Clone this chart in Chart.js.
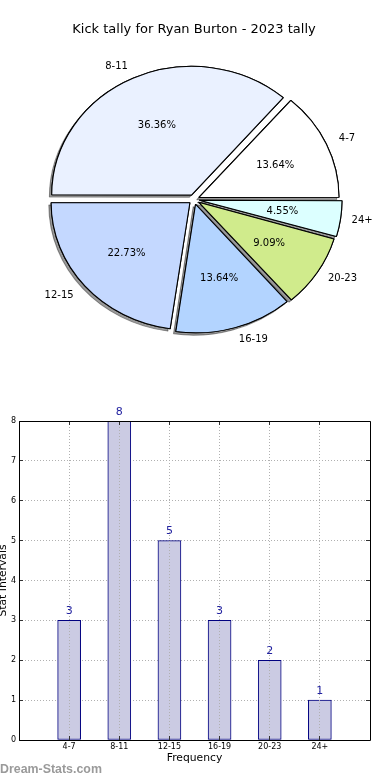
<!DOCTYPE html>
<html>
<head>
<meta charset="utf-8">
<script src="https://cdn.jsdelivr.net/npm/chart.js@4/dist/chart.umd.min.js"></script>
<style>
  html, body { margin: 0; padding: 0; background: #fff; }
  body { width: 390px; height: 780px; position: relative; overflow: hidden; }
  #pie { position: absolute; left: 0; top: 0; }
  #bar { position: absolute; left: 0; top: 400px; }
  #wm { position: absolute; left: 0; top: 761px; font: bold 12.4px "Liberation Sans", sans-serif; line-height: 16px; color: #9a9a9a; white-space: nowrap; }
</style>
</head>
<body>
<canvas id="pie" width="390" height="400"></canvas>
<canvas id="bar" width="390" height="380"></canvas>
<div id="wm">Dream-Stats.com</div>
<script>
// ---- data ----
const chartTitle = 'Kick tally for Ryan Burton - 2023 tally';
const categories = ['4-7', '8-11', '12-15', '16-19', '20-23', '24+'];
const counts = [3, 8, 5, 3, 2, 1];
const sliceColors = ['#ffffff', '#eaf1ff', '#c4d8ff', '#b3d4ff', '#d0eb8c', '#dcffff'];
const yTickValues = [0, 1, 2, 3, 4, 5, 6, 7, 8];
const xAxisTitle = 'Frequency';
const yAxisTitle = 'Stat Intervals';

const FONT = '"DejaVu Sans", sans-serif';
Chart.defaults.font.family = FONT;
Chart.defaults.color = '#000';

// ---- pie (matplotlib draws counter-clockwise from 3 o'clock; Chart.js clockwise) ----
const order = categories.map((_, i) => categories.length - 1 - i);
const X_STRETCH = 140 / 128.5;

function ellipse(chart) {
  const a = chart.getDatasetMeta(0).data[0];
  const ctx = chart.ctx;
  ctx.translate(a.x, a.y);
  ctx.scale(X_STRETCH, 1);
  ctx.translate(-a.x, -a.y);
}

const pieFx = {
  id: 'pieFx',
  beforeDatasetsDraw(chart) {
    const ctx = chart.ctx;
    ctx.save();
    ellipse(chart);
    ctx.shadowColor = 'rgba(0,0,0,0.4)';
    ctx.shadowOffsetX = -2.3;
    ctx.shadowOffsetY = 2.3;
    ctx.shadowBlur = 0;
    chart.getDatasetMeta(0).data.forEach(a => a.draw(ctx));
    ctx.restore();
    ctx.save();
    ellipse(chart);
  },
  afterDatasetsDraw(chart) {
    chart.ctx.restore();
  },
  afterDraw(chart) {
    const ctx = chart.ctx;
    const meta = chart.getDatasetMeta(0);
    const ds = chart.data.datasets[0];
    const total = ds.data.reduce((s, v) => s + v, 0);
    const d = (ds.offset || 0) / 4;
    ctx.save();
    ctx.font = '10px ' + FONT;
    ctx.fillStyle = '#000';
    ctx.textBaseline = 'middle';
    meta.data.forEach((a, i) => {
      const mid = (a.startAngle + a.endAngle) / 2;
      const c = Math.cos(mid), s = Math.sin(mid);
      const R = a.outerRadius + 1;
      const ex = a.x + X_STRETCH * d * c, ey = a.y + d * s;
      ctx.textAlign = c > 0 ? 'left' : 'right';
      ctx.fillText(chart.data.labels[i], ex + X_STRETCH * 1.1 * R * c, ey + 1.1 * R * s);
      ctx.textAlign = 'center';
      ctx.fillText((ds.data[i] / total * 100).toFixed(2) + '%', ex + X_STRETCH * 0.6 * R * c, ey + 0.6 * R * s);
    });
    ctx.restore();
  }
};

new Chart(document.getElementById('pie'), {
  type: 'pie',
  data: {
    labels: order.map(i => categories[i]),
    datasets: [{
      data: order.map(i => counts[i]),
      backgroundColor: order.map(i => sliceColors[i]),
      borderColor: '#000',
      borderWidth: 1,
      offset: 20,
      clip: false
    }]
  },
  options: {
    responsive: false,
    animation: false,
    rotation: 90,
    radius: 127.3,
    layout: { padding: { top: 0, left: 0, right: 2, bottom: 48.8 } },
    plugins: {
      legend: { display: false },
      tooltip: { enabled: false },
      title: {
        display: true,
        text: chartTitle,
        color: '#000',
        font: { size: 13, weight: 'normal', family: FONT },
        padding: { top: 22.2, bottom: 10 }
      }
    }
  },
  plugins: [pieFx]
});

// ---- bar ----
const pix = v => Math.round(v - 0.5) + 0.5;
const barFx = {
  id: 'barFx',
  afterDraw(chart) {
    const ctx = chart.ctx;
    const { left, right, top, bottom } = chart.chartArea;
    const xs = chart.scales.x, ys = chart.scales.y;
    ctx.save();
    // inward tick marks
    ctx.strokeStyle = '#333';
    ctx.lineWidth = 1;
    ctx.beginPath();
    ys.ticks.forEach(t => {
      const y = pix(ys.getPixelForValue(t.value));
      ctx.moveTo(left, y); ctx.lineTo(left + 4, y);
      ctx.moveTo(right - 4, y); ctx.lineTo(right, y);
    });
    categories.forEach((c, i) => {
      const x = pix(xs.getPixelForValue(i));
      ctx.moveTo(x, bottom); ctx.lineTo(x, bottom - 4);
      ctx.moveTo(x, top); ctx.lineTo(x, top + 4);
    });
    ctx.stroke();
    // frame
    ctx.strokeStyle = '#000';
    ctx.beginPath();
    ctx.rect(pix(left), pix(top), pix(right) - pix(left), pix(bottom) - pix(top));
    ctx.stroke();
    // value labels
    const meta = chart.getDatasetMeta(0);
    ctx.font = '11px ' + FONT;
    ctx.fillStyle = '#2222a0';
    ctx.textAlign = 'center';
    ctx.textBaseline = 'middle';
    meta.data.forEach((b, i) => {
      ctx.fillText(String(chart.data.datasets[0].data[i].y), b.x, b.y - 9);
    });
    ctx.restore();
  }
};

new Chart(document.getElementById('bar'), {
  type: 'bar',
  data: {
    datasets: [{
      data: categories.map((c, i) => ({ x: i, y: counts[i] })),
      backgroundColor: '#cbcbe3',
      borderColor: '#000080',
      borderWidth: 1,
      borderSkipped: false,
      barThickness: 23
    }]
  },
  options: {
    responsive: false,
    animation: false,
    layout: { padding: { top: 21, right: 20, left: 0, bottom: 0 } },
    plugins: { legend: { display: false }, tooltip: { enabled: false } },
    scales: {
      x: {
        type: 'linear',
        min: -1,
        max: categories.length,
        offset: false,
        ticks: {
          stepSize: 1,
          autoSkip: false,
          padding: 2,
          font: { size: 8 },
          color: '#000',
          callback: v => categories[v] !== undefined ? categories[v] : ''
        },
        grid: { offset: false, color: '#b0b0b0', lineWidth: 1, drawTicks: false, z: 1 },
        border: { display: false, dash: [1, 2] },
        title: { display: true, text: xAxisTitle, color: '#000', font: { size: 10.75 }, padding: { top: 0, bottom: 15 } },
        afterFit: s => { s.height = 40; }
      },
      y: {
        min: yTickValues[0],
        max: yTickValues[yTickValues.length - 1],
        ticks: { stepSize: 1, padding: 3, font: { size: 8 }, color: '#000' },
        grid: { color: '#b0b0b0', lineWidth: 1, drawTicks: false },
        border: { display: false, dash: [1, 2] },
        title: { display: true, text: yAxisTitle, color: '#000', font: { size: 10.75, lineHeight: 0.6 }, padding: { top: 0, bottom: 0 } },
        afterFit: s => { s.width = 19; }
      }
    }
  },
  plugins: [barFx]
});
</script>
</body>
</html>
